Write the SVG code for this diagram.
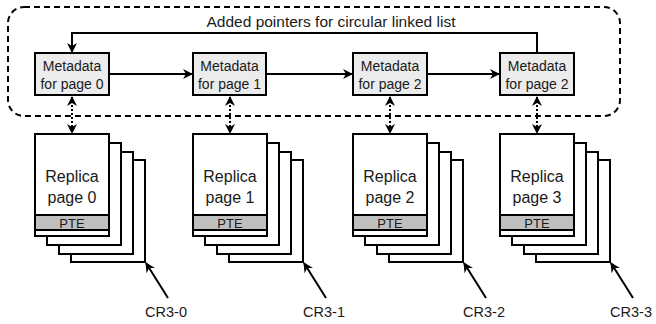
<svg xmlns="http://www.w3.org/2000/svg" width="656" height="324" viewBox="0 0 656 324">
<defs>
<marker id="ahs" viewBox="0 0 10 10" refX="9" refY="5" markerWidth="10" markerHeight="10" orient="auto-start-reverse" markerUnits="userSpaceOnUse">
<path d="M0,0 L10,5 L0,10 L3,5 Z" fill="#000"/>
</marker>
</defs>
<style>
text{font-family:"Liberation Sans",Arial,sans-serif;fill:#1a1a1a;text-anchor:middle}
.meta{fill:#ececec;stroke:#000;stroke-width:2}
.pg{fill:#fff;stroke:#000;stroke-width:2}
.pte{fill:#bfbfbf;stroke:#000;stroke-width:2}
.ln{fill:none;stroke:#000;stroke-width:2}
.dot{fill:none;stroke:#000;stroke-width:2;stroke-dasharray:2,2}
.mt{font-size:14px}
.rt{font-size:16px}
.pt{font-size:13px}
.ct{font-size:14.5px}
</style>
<rect x="8" y="7" width="612" height="109" rx="16" ry="16" fill="none" stroke="#000" stroke-width="2" stroke-dasharray="6,4"/>
<text x="331" y="27" style="font-size:15.5px">Added pointers for circular linked list</text>

<g id="meta0"><rect class="meta" x="35" y="53" width="74" height="42"/><text class="mt" x="72" y="71">Metadata</text><text class="mt" x="72" y="89">for page 0</text></g>
<g id="meta1"><rect class="meta" x="193" y="53" width="73" height="42"/><text class="mt" x="229.5" y="71">Metadata</text><text class="mt" x="229.5" y="89">for page 1</text></g>
<g id="meta2"><rect class="meta" x="353" y="53" width="74" height="42"/><text class="mt" x="390" y="71">Metadata</text><text class="mt" x="390" y="89">for page 2</text></g>
<g id="meta3"><rect class="meta" x="500" y="53" width="74" height="42"/><text class="mt" x="537" y="71">Metadata</text><text class="mt" x="537" y="89">for page 2</text></g>

<g id="replica0">
<rect class="pg" x="71" y="160" width="74" height="102"/>
<rect class="pg" x="59" y="152" width="74" height="102"/>
<rect class="pg" x="47" y="143" width="74" height="102"/>
<rect class="pg" x="35" y="134" width="74" height="102"/>
<rect class="pte" x="35" y="215" width="74" height="15"/>
<text class="rt" x="72" y="182">Replica</text><text class="rt" x="72" y="203">page 0</text>
<text class="pt" x="72" y="227.5">PTE</text>
</g>
<g id="replica1">
<rect class="pg" x="229" y="160" width="74" height="102"/>
<rect class="pg" x="217" y="152" width="74" height="102"/>
<rect class="pg" x="205" y="143" width="74" height="102"/>
<rect class="pg" x="193" y="134" width="74" height="102"/>
<rect class="pte" x="193" y="215" width="74" height="15"/>
<text class="rt" x="230" y="182">Replica</text><text class="rt" x="230" y="203">page 1</text>
<text class="pt" x="230" y="227.5">PTE</text>
</g>
<g id="replica2">
<rect class="pg" x="389" y="160" width="74" height="102"/>
<rect class="pg" x="377" y="152" width="74" height="102"/>
<rect class="pg" x="365" y="143" width="74" height="102"/>
<rect class="pg" x="353" y="134" width="74" height="102"/>
<rect class="pte" x="353" y="215" width="74" height="15"/>
<text class="rt" x="390" y="182">Replica</text><text class="rt" x="390" y="203">page 2</text>
<text class="pt" x="390" y="227.5">PTE</text>
</g>
<g id="replica3">
<rect class="pg" x="536" y="160" width="74" height="102"/>
<rect class="pg" x="524" y="152" width="74" height="102"/>
<rect class="pg" x="512" y="143" width="74" height="102"/>
<rect class="pg" x="500" y="134" width="74" height="102"/>
<rect class="pte" x="500" y="215" width="74" height="15"/>
<text class="rt" x="537" y="182">Replica</text><text class="rt" x="537" y="203">page 3</text>
<text class="pt" x="537" y="227.5">PTE</text>
</g>

<g id="cr3labels">
<text class="ct" x="166" y="317">CR3-0</text>
<text class="ct" x="324" y="317">CR3-1</text>
<text class="ct" x="484" y="317">CR3-2</text>
<text class="ct" x="631" y="317">CR3-3</text>
</g>

<g id="connectors">
<path class="ln" d="M537,53 V33 H72 V52" marker-end="url(#ahs)"/>
<line class="ln" x1="109" y1="74" x2="192" y2="74" marker-end="url(#ahs)"/>
<line class="ln" x1="266" y1="74" x2="352" y2="74" marker-end="url(#ahs)"/>
<line class="ln" x1="427" y1="74" x2="499" y2="74" marker-end="url(#ahs)"/>
<line class="dot" x1="72" y1="97" x2="72" y2="133" marker-start="url(#ahs)" marker-end="url(#ahs)"/>
<line class="dot" x1="230" y1="97" x2="230" y2="133" marker-start="url(#ahs)" marker-end="url(#ahs)"/>
<line class="dot" x1="390" y1="97" x2="390" y2="133" marker-start="url(#ahs)" marker-end="url(#ahs)"/>
<line class="dot" x1="537" y1="97" x2="537" y2="133" marker-start="url(#ahs)" marker-end="url(#ahs)"/>
<line class="ln" x1="168" y1="298" x2="146" y2="263" marker-end="url(#ahs)"/>
<line class="ln" x1="326" y1="298" x2="304" y2="263" marker-end="url(#ahs)"/>
<line class="ln" x1="486" y1="298" x2="464" y2="263" marker-end="url(#ahs)"/>
<line class="ln" x1="633" y1="298" x2="611" y2="263" marker-end="url(#ahs)"/>
</g>
</svg>
